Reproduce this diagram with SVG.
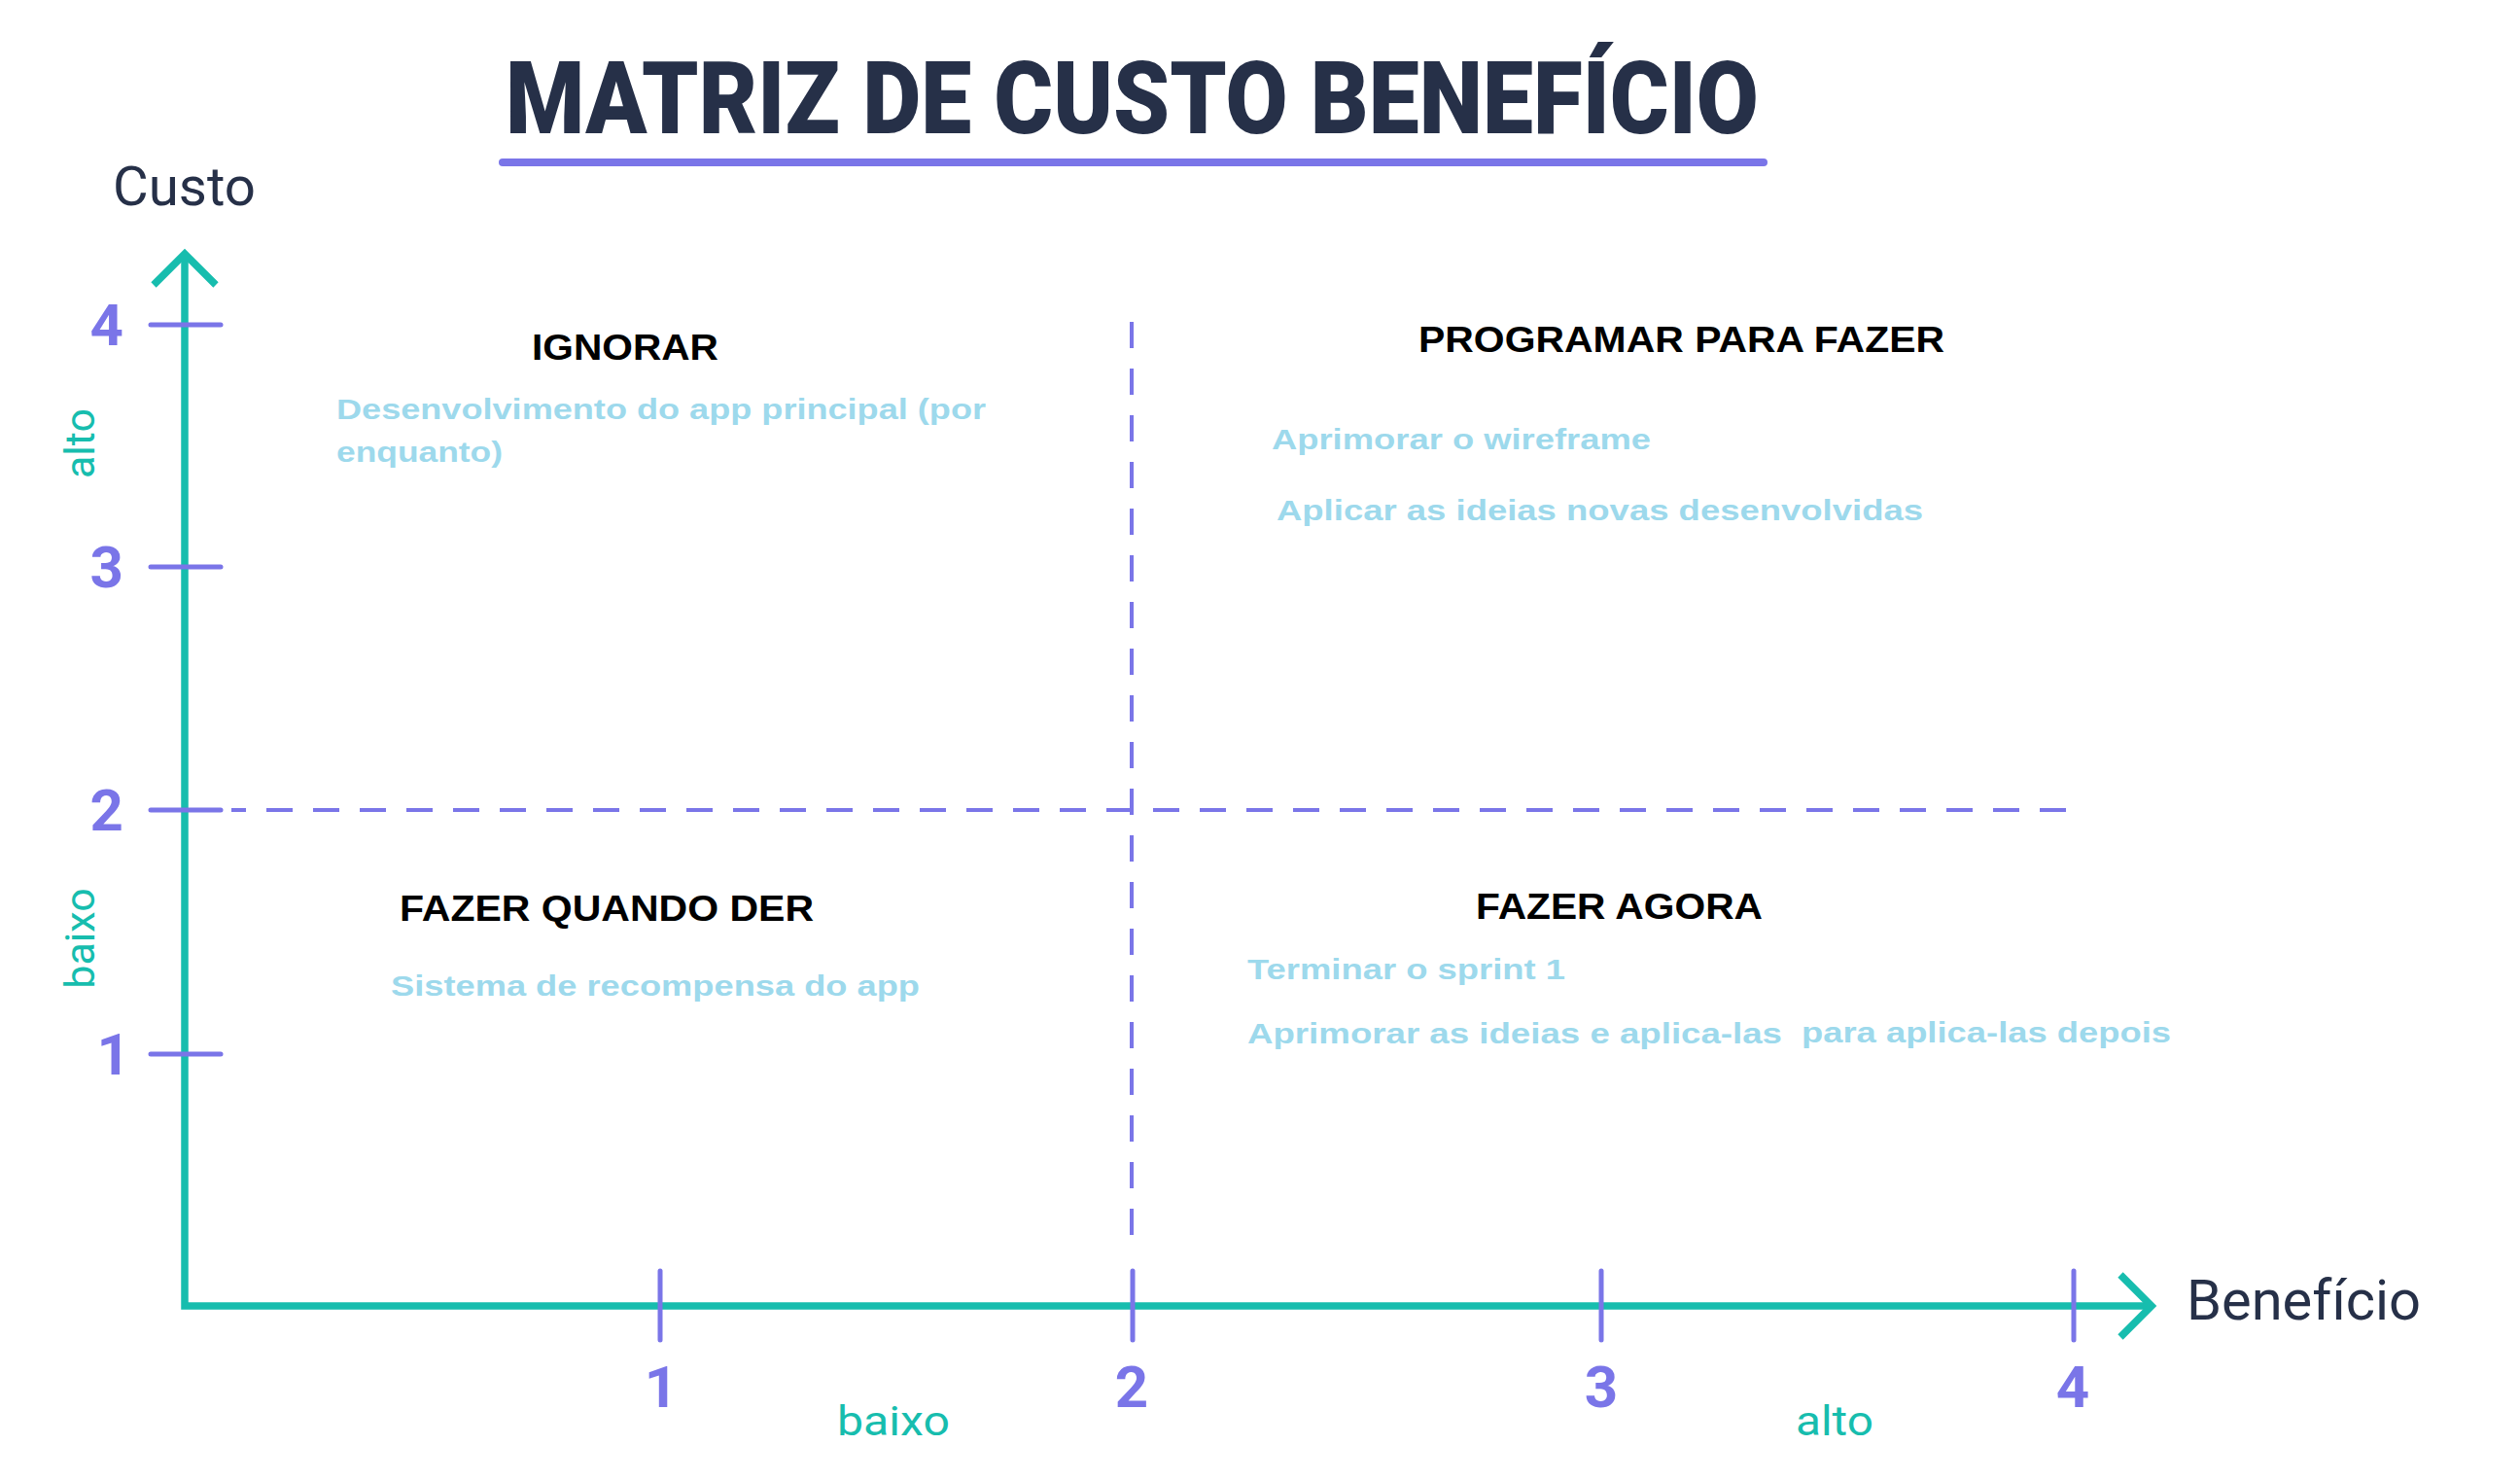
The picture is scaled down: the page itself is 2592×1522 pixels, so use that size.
<svg xmlns="http://www.w3.org/2000/svg" width="2592" height="1522" viewBox="0 0 2592 1522">
<style>
.title{font-family:Roboto,"Liberation Sans",sans-serif;font-weight:900;font-size:103px;fill:#263048}
.axlbl{font-family:Roboto,"Liberation Sans",sans-serif;font-weight:400;fill:#263048}
.lvl{font-family:Roboto,"Liberation Sans",sans-serif;font-weight:400;font-size:43px;fill:#17BDAE}
.tick{font-family:Roboto,"Liberation Sans",sans-serif;font-weight:700;font-size:60px;fill:#7A75E8}
.head{font-family:"Liberation Sans",Arial,sans-serif;font-weight:700;font-size:37px;fill:#000}
.item{font-family:"Liberation Sans",Arial,sans-serif;font-weight:700;font-size:30px;fill:#9DD9EC}
.axis{fill:none;stroke:#17BDAE;stroke-width:7.5}
.tk{stroke:#7A75E8;stroke-width:5;stroke-linecap:round}
.dash{stroke:#7A75E8;stroke-width:4;stroke-dasharray:27 21;fill:none}
</style>
<rect width="2592" height="1522" fill="#ffffff"/>
<g id="title">
<text class="title" x="520" y="137" textLength="1289" lengthAdjust="spacingAndGlyphs">MATRIZ DE CUSTO BENEFÍCIO</text>
<line x1="517" y1="167" x2="1814" y2="167" stroke="#7A75E8" stroke-width="8" stroke-linecap="round"/>
</g>
<g id="connectors">
<path class="axis" d="M190,262 V1343 H2212" stroke-linejoin="miter"/>
<path class="axis" d="M158,293 L190,261 L222,293"/>
<path class="axis" d="M2181,1311 L2213,1343 L2181,1375"/>
<line class="tk" x1="155" y1="334" x2="227" y2="334"/>
<line class="tk" x1="155" y1="583" x2="227" y2="583"/>
<line class="tk" x1="155" y1="833" x2="227" y2="833"/>
<line class="tk" x1="155" y1="1084" x2="227" y2="1084"/>
<line class="tk" x1="679" y1="1307" x2="679" y2="1378"/>
<line class="tk" x1="1165" y1="1307" x2="1165" y2="1378"/>
<line class="tk" x1="1647" y1="1307" x2="1647" y2="1378"/>
<line class="tk" x1="2133" y1="1307" x2="2133" y2="1378"/>
<line class="dash" x1="238" y1="833" x2="2132" y2="833" stroke-dashoffset="12"/>
<line class="dash" x1="1164" y1="331" x2="1164" y2="1281"/>
</g>
<g id="axis-labels">
<text class="axlbl" x="116" y="211" font-size="56" textLength="147" lengthAdjust="spacingAndGlyphs">Custo</text>
<text class="axlbl" x="2249" y="1357" font-size="58" textLength="241" lengthAdjust="spacingAndGlyphs">Benefício</text>
<text class="lvl" transform="translate(97,456) rotate(-90)" text-anchor="middle">alto</text>
<text class="lvl" transform="translate(97,965) rotate(-90)" text-anchor="middle">baixo</text>
<text class="lvl" x="861" y="1476" textLength="116" lengthAdjust="spacingAndGlyphs">baixo</text>
<text class="lvl" x="1847" y="1476" textLength="80" lengthAdjust="spacingAndGlyphs">alto</text>
<text class="tick" x="127" y="355" text-anchor="end">4</text>
<text class="tick" x="127" y="604" text-anchor="end">3</text>
<text class="tick" x="127" y="854" text-anchor="end">2</text>
<text class="tick" x="134" y="1105" text-anchor="end">1</text>
<text class="tick" x="680" y="1447" text-anchor="middle">1</text>
<text class="tick" x="1164" y="1447" text-anchor="middle">2</text>
<text class="tick" x="1647" y="1447" text-anchor="middle">3</text>
<text class="tick" x="2132" y="1447" text-anchor="middle">4</text>
</g>
<g id="q-ignorar">
<text class="head" x="547" y="370" textLength="192" lengthAdjust="spacingAndGlyphs">IGNORAR</text>
<text class="item" x="346" y="431" textLength="668" lengthAdjust="spacingAndGlyphs">Desenvolvimento do app principal (por</text>
<text class="item" x="346" y="475" textLength="171" lengthAdjust="spacingAndGlyphs">enquanto)</text>
</g>
<g id="q-programar">
<text class="head" x="1459" y="362" textLength="541" lengthAdjust="spacingAndGlyphs">PROGRAMAR PARA FAZER</text>
<text class="item" x="1308" y="462" textLength="390" lengthAdjust="spacingAndGlyphs">Aprimorar o wireframe</text>
<text class="item" x="1313" y="535" textLength="665" lengthAdjust="spacingAndGlyphs">Aplicar as ideias novas desenvolvidas</text>
</g>
<g id="q-fazer-quando-der">
<text class="head" x="411" y="947" textLength="426" lengthAdjust="spacingAndGlyphs">FAZER QUANDO DER</text>
<text class="item" x="402" y="1024" textLength="544" lengthAdjust="spacingAndGlyphs">Sistema de recompensa do app</text>
</g>
<g id="q-fazer-agora">
<text class="head" x="1518" y="945" textLength="295" lengthAdjust="spacingAndGlyphs">FAZER AGORA</text>
<text class="item" x="1283" y="1007" textLength="327" lengthAdjust="spacingAndGlyphs">Terminar o sprint 1</text>
<text class="item" x="1283" y="1073" textLength="550" lengthAdjust="spacingAndGlyphs">Aprimorar as ideias e aplica-las</text>
<text class="item" x="1853" y="1072" textLength="380" lengthAdjust="spacingAndGlyphs">para aplica-las depois</text>
</g>
</svg>
